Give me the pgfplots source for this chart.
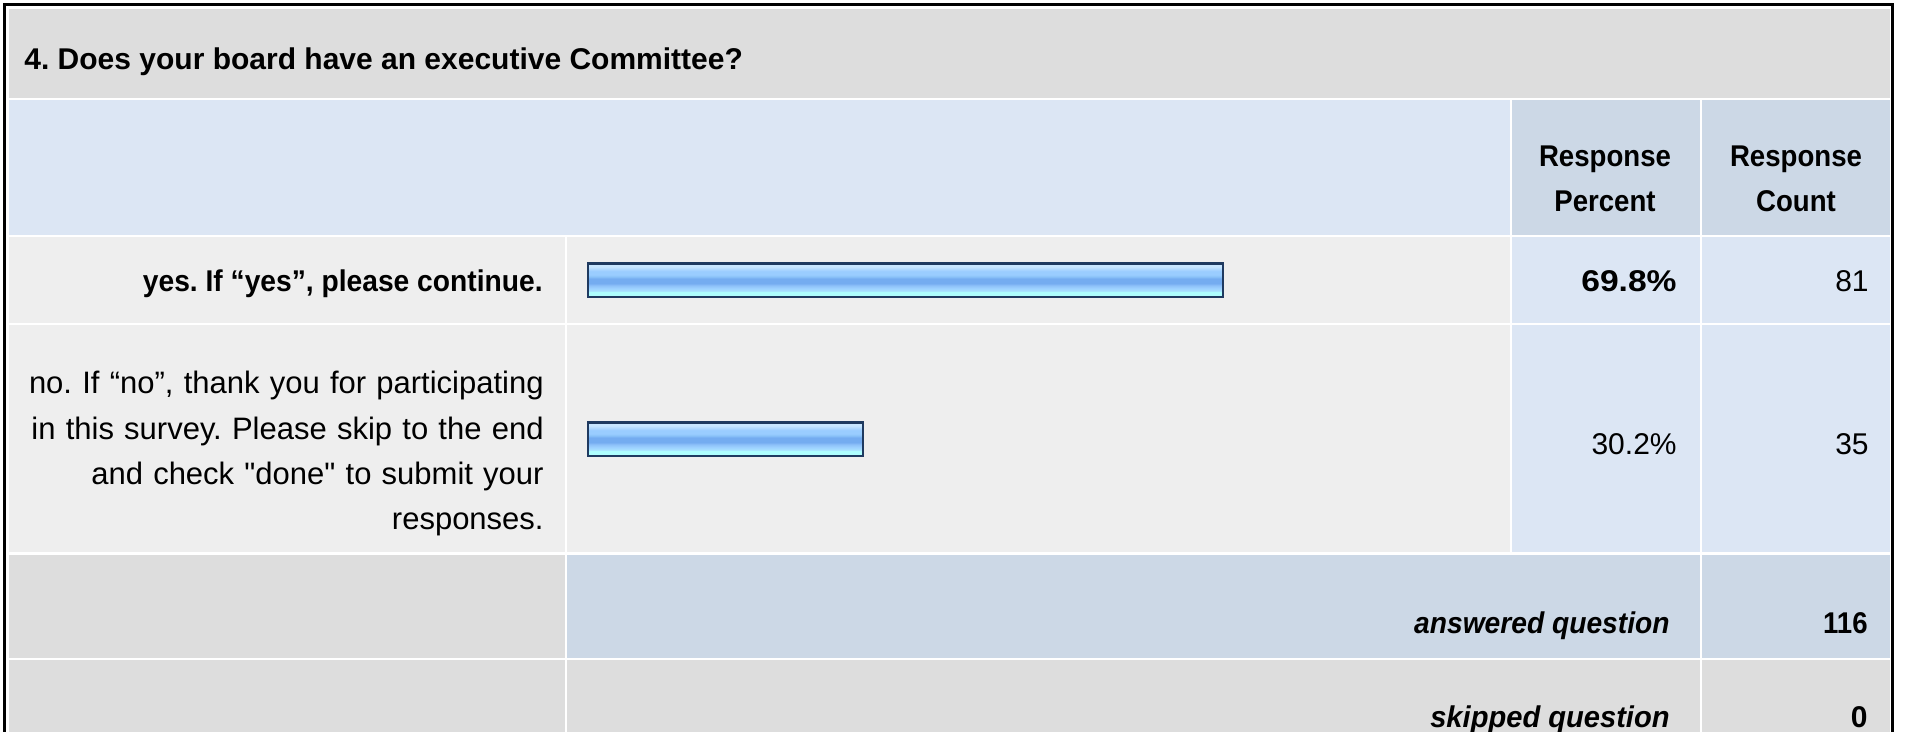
\documentclass[border=0pt]{standalone}
\usepackage{pgfplots}
\pgfplotsset{compat=1.18}
\usepackage{graphicx}
\usepackage{fontspec}
\setmainfont{Liberation Sans}
\frenchspacing
\definecolor{titlegrey}{HTML}{DDDDDD}
\definecolor{hdrblue}{HTML}{DCE6F4}
\definecolor{hdrdark}{HTML}{CCD8E6}
\definecolor{rowgrey}{HTML}{EEEEEE}
\definecolor{cellblue}{HTML}{DCE6F4}
\definecolor{bnavy}{HTML}{1F3A60}
\definecolor{sA}{HTML}{AEFEFE}
\definecolor{sB}{HTML}{A8E0FF}
\definecolor{sC}{HTML}{9CD0FF}
\definecolor{sD}{HTML}{8CC0F8}
\definecolor{sE}{HTML}{74ACF0}
\definecolor{sF}{HTML}{8AC2F8}
\definecolor{sG}{HTML}{9ACDFF}
\definecolor{sH}{HTML}{ADD7FF}
\definecolor{sI}{HTML}{C8E6FF}
\pgfdeclareverticalshading{barshade}{100bp}{color(0bp)=(sA); color(25bp)=(sA); color(32bp)=(sA); color(34bp)=(sB); color(38bp)=(sC); color(42bp)=(sD); color(45bp)=(sE); color(52bp)=(sE); color(55bp)=(sF); color(58bp)=(sG); color(63bp)=(sG); color(66bp)=(sH); color(70bp)=(sI); color(75bp)=(sI); color(100bp)=(sI)}
\newcommand\fs{\fontsize{15}{18}\selectfont}
\newcommand\fr{\fontsize{15.5}{18}\selectfont\spaceskip=0.33em\relax}
\begin{document}
\begin{tikzpicture}
\useasboundingbox (0,0) rectangle (953.5pt,-366pt);
\clip (0,0) rectangle (953.5pt,-366pt);
\begin{scope}[x=0.5pt,y=-0.5pt]
\fill[white] (0,0) rectangle (1907,732);
% title row
\fill[titlegrey] (9,9) rectangle (1890,98);
% header row
\fill[hdrblue] (9,100) rectangle (1510,235);
\fill[hdrdark] (1512,100) rectangle (1700,235);
\fill[hdrdark] (1702,100) rectangle (1890,235);
% yes row
\fill[rowgrey] (9,237) rectangle (565,323);
\fill[rowgrey] (567,237) rectangle (1510,323);
\fill[cellblue] (1512,237) rectangle (1700,323);
\fill[cellblue] (1702,237) rectangle (1890,323);
% no row
\fill[rowgrey] (9,325) rectangle (565,552);
\fill[rowgrey] (567,325) rectangle (1510,552);
\fill[cellblue] (1512,325) rectangle (1700,552);
\fill[cellblue] (1702,325) rectangle (1890,552);
% answered row
\fill[titlegrey] (9,555) rectangle (565,658);
\fill[hdrdark] (567,555) rectangle (1700,658);
\fill[hdrdark] (1702,555) rectangle (1890,658);
% skipped row
\fill[titlegrey] (9,660) rectangle (565,770);
\fill[titlegrey] (567,660) rectangle (1700,770);
\fill[titlegrey] (1702,660) rectangle (1890,770);
% outer border
\fill[black] (3,3) rectangle (1894,6);
\fill[black] (3,3) rectangle (6,770);
\fill[black] (1891,3) rectangle (1894,770);
% texts
\node[anchor=base west, font=\fs\bfseries, inner sep=0pt] at (24,70) {4. Does your board have an executive Committee?};
\node[anchor=base, font=\fs\bfseries, inner sep=0pt] at (1605,167) {\scalebox{0.92}[1]{Response}};
\node[anchor=base, font=\fs\bfseries, inner sep=0pt] at (1605,212) {\scalebox{0.92}[1]{Percent}};
\node[anchor=base, font=\fs\bfseries, inner sep=0pt] at (1796,167) {\scalebox{0.92}[1]{Response}};
\node[anchor=base, font=\fs\bfseries, inner sep=0pt] at (1796,212) {\scalebox{0.92}[1]{Count}};
\node[anchor=base east, font=\fs\bfseries, inner sep=0pt] at (543,292) {\scalebox{0.94}[1]{yes. If “yes”, please continue.}};
\node[anchor=base east, font=\fr, inner sep=0pt] at (544,394) {no. If “no”, thank you for participating};
\node[anchor=base east, font=\fr, inner sep=0pt] at (544,440) {in this survey. Please skip to the end};
\node[anchor=base east, font=\fr, inner sep=0pt] at (544,485) {and check {\addfontfeatures{Ligatures=TeXOff}"done"} to submit your};
\node[anchor=base east, font=\fr, inner sep=0pt] at (544,530) {responses.};
\node[anchor=base east, font=\fs\bfseries, inner sep=0pt] at (1677,292) {\scalebox{1.12}[1]{69.8\%}};
\node[anchor=base east, font=\fs, inner sep=0pt] at (1869,292) {81};
\node[anchor=base east, font=\fs, inner sep=0pt] at (1677,455) {30.2\%};
\node[anchor=base east, font=\fs, inner sep=0pt] at (1869,455) {35};
\node[anchor=base east, font=\fs\bfseries\itshape, inner sep=0pt] at (1670,633) {\scalebox{0.94}[1]{answered question}};
\node[anchor=base east, font=\fs\bfseries, inner sep=0pt] at (1868,633) {\scalebox{0.92}[1]{116}};
\node[anchor=base east, font=\fs\bfseries\itshape, inner sep=0pt] at (1670,727) {\scalebox{0.97}[1]{skipped question}};
\node[anchor=base east, font=\fs\bfseries, inner sep=0pt] at (1868,727) {0};
\end{scope}
\begin{axis}[
  at={(294pt,-60.5pt)}, anchor=north west,
  scale only axis, width=455pt, height=238.5pt,
  xmin=0, xmax=100, ymin=0, ymax=3, y dir=reverse,
  hide axis, clip=false,
  xbar, bar width=16.75pt, bar shift=0pt,
]
\addplot[xbar, draw=bnavy, line width=1.25pt, shade, shading=barshade] coordinates {(69.8,1)};
\addplot[xbar, draw=bnavy, line width=1.25pt, shade, shading=barshade] coordinates {(30.2,2)};
\end{axis}
\end{tikzpicture}
\end{document}
